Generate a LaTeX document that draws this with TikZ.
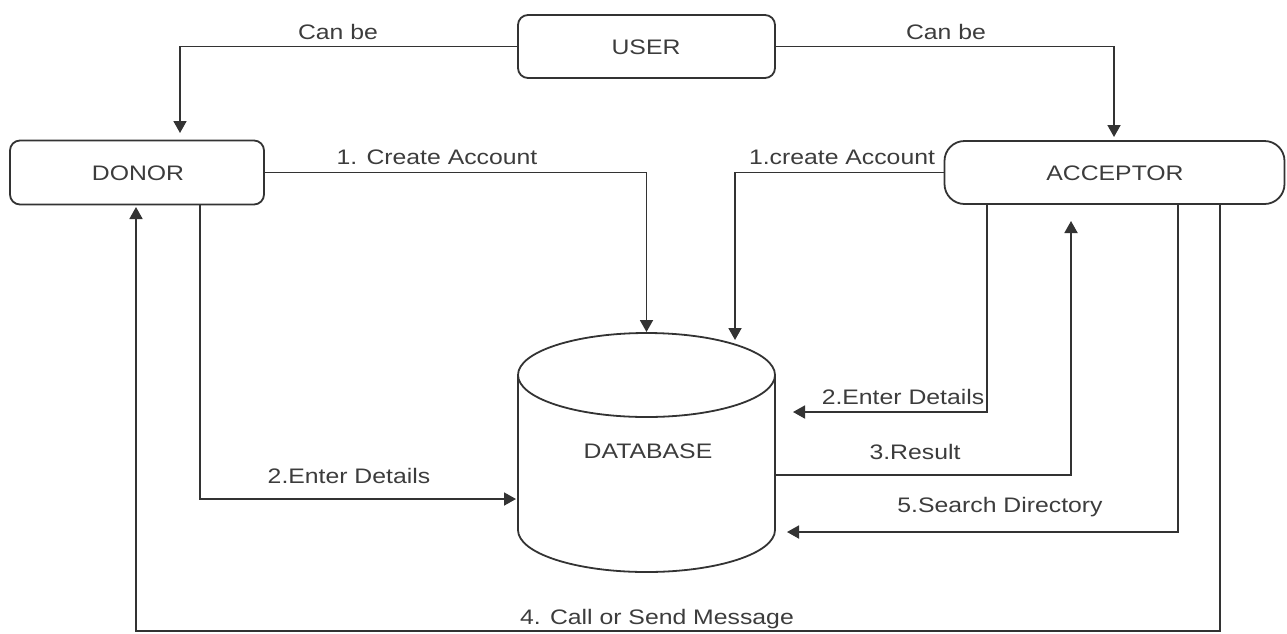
\documentclass[tikz,border=0pt]{standalone}
\usepackage{fontspec}
\setmainfont{Liberation Sans}[FakeStretch=1.18]
\usetikzlibrary{arrows.meta}
\definecolor{ln}{HTML}{333333}
\definecolor{tx}{HTML}{3C3C3C}
\begin{document}
\begin{tikzpicture}[x=1pt,y=-1pt,
  box/.style={draw=ln,line width=1.8pt,rounded corners=10pt,inner sep=0pt,text=tx},
  lbl/.style={text=tx,inner sep=0pt,font=\fontsize{21}{24}\selectfont},
  conn/.style={draw=ln,line width=1.8pt},
  arr/.style={conn,-{Triangle[length=12pt,width=13pt]}}]
\useasboundingbox (0,0) rectangle (1287,633);
% boxes
\node[box,minimum width=257pt,minimum height=63pt] (user) at (646.5,46.5) {};
\node[lbl] (usert) at (646,47) {USER};
\node[box,minimum width=254pt,minimum height=64pt] (donor) at (137,172.5) {};
\node[lbl] (donort) at (138,173) {DONOR};
\node[box,rounded corners=20pt,minimum width=340pt,minimum height=63pt] (acc) at (1114.5,172.5) {};
\node[lbl] (acct) at (1115,173) {ACCEPTOR};
% database cylinder
\node[inner sep=0pt,minimum width=257pt,minimum height=240pt] (db) at (646.5,452) {};
\draw[ln,line width=1.8pt] (518,375) arc[start angle=180,end angle=-180,x radius=128.5,y radius=42];
\draw[ln,line width=1.8pt] (518,375) -- (518,530) arc[start angle=180,end angle=0,x radius=128.5,y radius=42] -- (775,375);
\node[lbl] (dbt) at (648,451) {DATABASE};
% coordinates
\coordinate (dtop) at (646.5,332);
\coordinate (dtr) at (735,340);
\coordinate (dl) at (516,499);
\coordinate (acc1) at (987,204);
\coordinate (acc2) at (1071,221);
\coordinate (acc3) at (1178,204);
\coordinate (acc4) at (1220,204);
\coordinate (de) at (793,412);
\coordinate (dr) at (775,475);
\coordinate (ds) at (787,532);
\coordinate (bl) at (136,631);
\coordinate (dn1) at (136,207);
\coordinate (dn2) at (200,204);
% connectors
\draw[arr] (user.west) -| (180,133);
\draw[arr] (user.east) -| (1114,137);
\draw[arr] (donor.east) -| (dtop);
\draw[arr] (acc.west) -| (dtr);
\draw[arr] (dn2) |- (dl);
\draw[arr] (acc1) |- (de);
\draw[arr] (dr) -| (acc2);
\draw[arr] (acc3) |- (ds);
\draw[arr] (acc4) |- (bl) -- (dn1);
% labels
\node[lbl] (l1) at (338,32) {Can be};
\node[lbl] (l2) at (946,32) {Can be};
\node[lbl] (l3) at (437,157) {1. Create Account};
\node[lbl] (l4) at (842,157) {1.create Account};
\node[lbl] (l5) at (349,476) {2.Enter Details};
\node[lbl] (l6) at (903,397) {2.Enter Details};
\node[lbl] (l7) at (915,452) {3.Result};
\node[lbl] (l8) at (1000,507) {5.Search Directory};
\node[lbl] (l9) at (657,619) {4. Call or Send Message};
\end{tikzpicture}
\end{document}
